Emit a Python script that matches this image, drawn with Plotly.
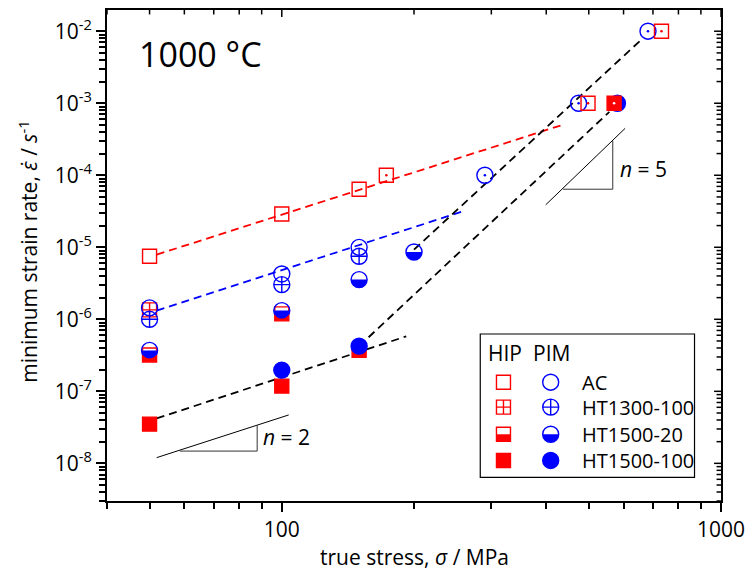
import numpy as np
import plotly.graph_objects as go

RED = "#ff0000"
BLUE = "#0000ff"
FONT = "Open Sans"

# ---------------- creep data: true stress (MPa) / minimum strain rate (1/s) ----------------
hip_ac_stress = [50, 100, 150]
hip_ac_rate = [7.5e-6, 2.9e-5, 6.4e-5]
pim_ac_stress = [50, 100, 150]
pim_ac_rate = [1.44e-6, 4.26e-6, 9.97e-6]

hip_ht1300_stress = [50]
hip_ht1300_rate = [1.35e-6]
pim_ht1300_stress = [50, 100, 150]
pim_ht1300_rate = [1.0e-6, 3.03e-6, 7.5e-6]

hip_ht1500_20_stress = [50, 100]
hip_ht1500_20_rate = [3.2e-7, 1.19e-6]
pim_ht1500_20_stress = [50, 100, 150, 200]
pim_ht1500_20_rate = [3.7e-7, 1.32e-6, 3.56e-6, 8.6e-6]

hip_ht1500_100_stress = [50, 100, 150]
hip_ht1500_100_rate = [3.5e-8, 1.18e-7, 3.7e-7]
pim_ht1500_100_stress = [100, 150]
pim_ht1500_100_rate = [1.97e-7, 4.24e-7]

# constant strain-rate tests (symbols with a centre dot)
hip_ac_csr_stress = [173, 498, 732]
hip_ac_csr_rate = [1e-4, 1e-3, 1e-2]
pim_ac_csr_stress = [290, 474, 682]
pim_ac_csr_rate = [1e-4, 1e-3, 1e-2]
hip_ht1500_100_csr_stress = [571]
hip_ht1500_100_csr_rate = [1e-3]
pim_ht1500_100_csr_stress = [581]
pim_ht1500_100_csr_rate = [1e-3]

# power-law fit lines (end points)
fit_red_stress = [51.9, 431]
fit_red_rate = [7.9e-6, 4.9e-4]
fit_blue_stress = [51.9, 258]
fit_blue_rate = [1.32e-6, 3.14e-5]
fit_low_stress = [51.9, 192]
fit_low_rate = [4.2e-8, 5.8e-7]
fit_mid_stress = [150, 557]
fit_mid_rate = [4.24e-7, 7.6e-4]
fit_up_stress = [200, 656]
fit_up_rate = [9.27e-6, 7.46e-3]

# slope triangles (hypotenuse, horizontal leg, vertical leg)
tri2_hyp_x = [51.9, 103.7]
tri2_hyp_y = [1.2e-8, 4.7e-8]
tri2_leg_x = [58.6, 87.9, 87.9]
tri2_leg_y = [1.48e-8, 1.48e-8, 3.39e-8]
tri5_hyp_x = [399, 605]
tri5_hyp_y = [3.89e-5, 4.48e-4]
tri5_leg_x = [437, 567, 567]
tri5_leg_y = [6.4e-5, 6.4e-5, 3.0e-4]

legend_labels = ["AC", "HT1300-100", "HT1500-20", "HT1500-100"]

# axis ticks
x_major = [100, 1000]
x_major_text = ["100", "1000"]
x_minor = [40, 50, 60, 70, 80, 90, 200, 300, 400, 500, 600, 700, 800, 900]
y_major = [10.0 ** k for k in range(-8, -1)]
y_major_text = [f"10<sup>{k}</sup>" for k in range(-8, -1)]
y_minor = [m * 10.0 ** k for k in range(-9, -2) for m in range(2, 10)
           if 3e-9 <= m * 10.0 ** k <= 1.97e-2]

X_RANGE = [float(np.log10(40)), 3.0]
Y_RANGE = [float(np.log10(3e-9)), float(np.log10(1.97e-2))]

PLOT_L, PLOT_R, PLOT_T, PLOT_B = 107, 726, 8, 501
PX_PER_DEC_X = (PLOT_R - PLOT_L) / (X_RANGE[1] - X_RANGE[0])
PX_PER_DEC_Y = (PLOT_B - PLOT_T) / (Y_RANGE[1] - Y_RANGE[0])


def page_x(px):
    """page pixel column -> stress value on the log axis"""
    return 10 ** (X_RANGE[0] + (px - PLOT_L) / PX_PER_DEC_X)


def page_y(py):
    """page pixel row -> strain-rate value on the log axis"""
    return 10 ** (Y_RANGE[1] - (py - PLOT_T) / PX_PER_DEC_Y)


def paper_x(px):
    return (px - PLOT_L) / (PLOT_R - PLOT_L)


def paper_y(py):
    return (PLOT_B - py) / (PLOT_B - PLOT_T)


CIRC = 16
SQ = 14
LW = 1.4
TICK_W = 1.5

fig = go.Figure()


def add_pts(x, y, symbol, color, size, fill=None):
    fig.add_trace(go.Scatter(
        x=x, y=y, mode="markers",
        marker=dict(symbol=symbol, size=size,
                    color=fill if fill else color,
                    line=dict(color=color, width=LW)),
        showlegend=False, hoverinfo="skip"))


def add_dots(x, y, color):
    fig.add_trace(go.Scatter(
        x=x, y=y, mode="markers",
        marker=dict(symbol="circle", size=2.6, color=color, line=dict(width=0)),
        showlegend=False, hoverinfo="skip"))


def half_circle_path(r, n=28):
    pts = [(r * np.cos(np.pi + np.pi * k / n), r * np.sin(np.pi + np.pi * k / n)) for k in range(n + 1)]
    return "M " + " L ".join(f"{px:.2f},{py:.2f}" for px, py in pts) + " Z"


def half_square_path(a):
    h = a / 2
    return f"M {-h},{-h} L {h},{-h} L {h},0 L {-h},0 Z"


shapes = []


def add_half(xs, ys, kind, color):
    path = half_circle_path(CIRC / 2) if kind == "circle" else half_square_path(SQ)
    for xv, yv in zip(xs, ys):
        shapes.append(dict(type="path", xref="x", yref="y",
                           xsizemode="pixel", ysizemode="pixel",
                           xanchor=xv, yanchor=yv, path=path,
                           fillcolor=color, line=dict(width=0), layer="above"))


def add_line(x, y, color, dash, width):
    fig.add_trace(go.Scatter(
        x=x, y=y, mode="lines",
        line=dict(color=color, width=width, dash=dash),
        showlegend=False, hoverinfo="skip"))


# fit lines
DASH = "8px,5px"
add_line(fit_red_stress, fit_red_rate, RED, DASH, 1.8)
add_line(fit_blue_stress, fit_blue_rate, BLUE, DASH, 1.8)
add_line(fit_low_stress, fit_low_rate, "black", DASH, 1.8)
add_line(fit_mid_stress, fit_mid_rate, "black", DASH, 1.8)
add_line(fit_up_stress, fit_up_rate, "black", DASH, 1.8)

# slope triangles
add_line(tri2_hyp_x, tri2_hyp_y, "black", "solid", 1)
add_line(tri2_leg_x, tri2_leg_y, "#333333", "solid", 1)
add_line(tri5_hyp_x, tri5_hyp_y, "black", "solid", 1)
add_line(tri5_leg_x, tri5_leg_y, "#333333", "solid", 1)

# HIP (red squares)
add_pts(hip_ac_stress, hip_ac_rate, "square-open", RED, SQ)
add_pts(hip_ht1300_stress, hip_ht1300_rate, "square-cross-open", RED, SQ)
add_pts(hip_ht1500_20_stress, hip_ht1500_20_rate, "square-open", RED, SQ)
add_half(hip_ht1500_20_stress, hip_ht1500_20_rate, "square", RED)
add_pts(hip_ht1500_100_stress, hip_ht1500_100_rate, "square", RED, SQ, fill=RED)

# PIM (blue circles)
add_pts(pim_ac_stress, pim_ac_rate, "circle-open", BLUE, CIRC)
add_pts(pim_ht1300_stress, pim_ht1300_rate, "circle-cross-open", BLUE, CIRC)
add_pts(pim_ht1500_20_stress, pim_ht1500_20_rate, "circle-open", BLUE, CIRC)
add_half(pim_ht1500_20_stress, pim_ht1500_20_rate, "circle", BLUE)
add_pts(pim_ht1500_100_stress, pim_ht1500_100_rate, "circle", BLUE, CIRC, fill=BLUE)

# constant strain-rate tests
add_pts(pim_ac_csr_stress, pim_ac_csr_rate, "circle-open", BLUE, CIRC)
add_dots(pim_ac_csr_stress, pim_ac_csr_rate, BLUE)
add_pts(hip_ac_csr_stress, hip_ac_csr_rate, "square-open", RED, SQ)
add_dots(hip_ac_csr_stress, hip_ac_csr_rate, RED)
add_pts(pim_ht1500_100_csr_stress, pim_ht1500_100_csr_rate, "circle", BLUE, CIRC, fill=BLUE)
add_pts(hip_ht1500_100_csr_stress, hip_ht1500_100_csr_rate, "square", RED, SQ, fill=RED)
add_dots(hip_ht1500_100_csr_stress, hip_ht1500_100_csr_rate, "white")

# inward-pointing ticks along the top and right frame edges
for xv in x_major + x_minor:
    ln = 7 if xv in x_major else 4.5
    shapes.append(dict(type="line", xref="x", yref="y", layer="above",
                       x0=xv, x1=xv, y0=page_y(PLOT_T), y1=page_y(PLOT_T + ln),
                       line=dict(color="black", width=TICK_W)))
for yv in y_major + y_minor:
    ln = 7 if yv in y_major else 4.5
    shapes.append(dict(type="line", xref="x", yref="y", layer="above",
                       x0=page_x(PLOT_R), x1=page_x(PLOT_R - ln), y0=yv, y1=yv,
                       line=dict(color="black", width=TICK_W)))

# ---------------- legend block ----------------
LX_SQ, LX_CI, LX_TX = 506.7, 554.3, 584.3
ROWS = [381.7, 406.7, 434.0, 460.3]
sq_syms = ["square-open", "square-cross-open", "square-open", "square"]
ci_syms = ["circle-open", "circle-cross-open", "circle-open", "circle"]
for i, ry in enumerate(ROWS):
    add_pts([page_x(LX_SQ)], [page_y(ry)], sq_syms[i], RED, SQ, fill=RED if i == 3 else None)
    add_pts([page_x(LX_CI)], [page_y(ry)], ci_syms[i], BLUE, CIRC, fill=BLUE if i == 3 else None)
add_half([page_x(LX_SQ)], [page_y(ROWS[2])], "square", RED)
add_half([page_x(LX_CI)], [page_y(ROWS[2])], "circle", BLUE)

shapes.append(dict(type="rect", xref="paper", yref="paper",
                   x0=paper_x(483.3), x1=paper_x(699.3), y0=paper_y(477.3), y1=paper_y(333.3),
                   line=dict(color="black", width=1.2), fillcolor="rgba(0,0,0,0)", layer="above"))

annotations = []


def label(px, py, text, size, anchor="left", angle=0):
    annotations.append(dict(x=paper_x(px), y=paper_y(py), xref="paper", yref="paper",
                            text=text, showarrow=False, textangle=angle,
                            xanchor=anchor, yanchor="middle",
                            font=dict(size=size, color="black")))


for lab, ry in zip(legend_labels, ROWS):
    label(LX_TX, ry, lab, 20)
label(508.3, 352, "HIP", 21, "center")
label(555, 352, "PIM", 21, "center")
label(137, 52, "1000 °C", 34)
label(262, 437, "<i>n</i> = 2", 21)
label(622, 168, "<i>n</i> = 5", 21)
label(416.5, 557, "true stress, <i>σ</i> / MPa", 21, "center")
label(27, 251, "minimum strain rate, <i>ε\u0307</i> / <i>s</i><sup>-1</sup>", 21, "center", -90)

# ---------------- axes ----------------
axis_common = dict(showgrid=False, zeroline=False, showline=True, linecolor="black", linewidth=2,
                   tickcolor="black", tickwidth=TICK_W, mirror=True)

fig.update_layout(
    width=753, height=575,
    margin=dict(l=PLOT_L, r=753 - PLOT_R, t=PLOT_T, b=575 - PLOT_B),
    paper_bgcolor="white", plot_bgcolor="white",
    font=dict(family=FONT, color="black"),
    showlegend=False,
    xaxis=dict(type="log", range=X_RANGE, tickmode="array", tickvals=x_major,
               ticktext=x_major_text, ticks="outside", ticklen=9,
               tickfont=dict(size=21),
               minor=dict(tickmode="array", tickvals=x_minor, ticks="outside", ticklen=6,
                          tickcolor="black", tickwidth=TICK_W),
               **axis_common),
    yaxis=dict(type="log", range=Y_RANGE, tickmode="array", tickvals=y_major,
               ticktext=y_major_text, ticks="outside", ticklen=9,
               tickfont=dict(size=21),
               minor=dict(tickmode="array", tickvals=y_minor, ticks="outside", ticklen=6,
                          tickcolor="black", tickwidth=TICK_W),
               **axis_common),
    shapes=shapes,
    annotations=annotations,
)

fig.write_html("out.html")
